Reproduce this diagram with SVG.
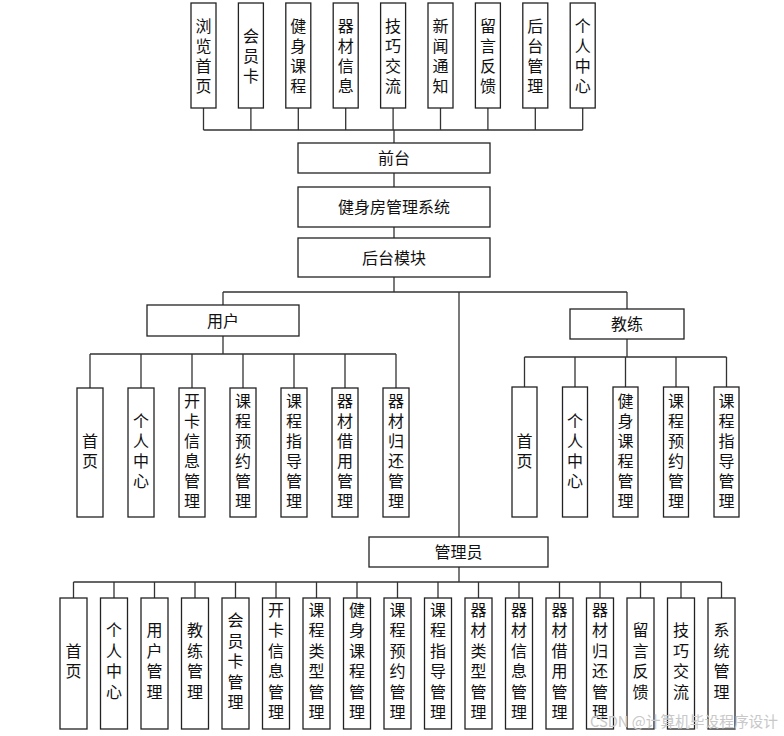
<svg xmlns="http://www.w3.org/2000/svg" width="784" height="736" viewBox="0 0 784 736">
<style>
.b{fill:#fff;stroke:#222;stroke-width:1.3}
.t{font-family:"Noto Sans CJK SC","Noto Sans",sans-serif;font-size:16px;fill:#111;text-anchor:middle}
.v{font-family:"Noto Sans CJK SC","Noto Sans",sans-serif;font-size:16px;fill:#111;text-anchor:middle;writing-mode:vertical-rl;text-orientation:upright;letter-spacing:4px}
.v2{letter-spacing:4.5px}
.c{fill:none;stroke:#333;stroke-width:1.3}
.w{font-family:"Noto Sans CJK SC","Noto Sans",sans-serif;font-size:15px;fill:#c8c8c8}
</style>
<rect width="784" height="736" fill="#fff"/>
<g id="connectors">
<path class="c" d="M203.5 108V130M250.9 108V130M298.3 108V130M345.7 108V130M393.1 108V130M440.5 108V130M487.9 108V130M535.3 108V130M582.7 108V130M203.5 130H582.7M394 130V143"/>
<path class="c" d="M394 173V187M394 227V238M394 277V292M223 292H627M223 292V305M627 292V309M459 292V537"/>
<path class="c" d="M223 336V354M90 354H396M90 354V388M141 354V388M192 354V388M243 354V388M294 354V388M345 354V388M396 354V388"/>
<path class="c" d="M627 339V357M524.5 357H726.5M524.5 357V387M575 357V387M625.5 357V387M676 357V387M726.5 357V387"/>
<path class="c" d="M459 567V582M73.5 582H721.5M73.5 582V598M114 582V598M154.5 582V598M195 582V598M235.5 582V598M276 582V598M316.5 582V598M357 582V598M397.5 582V598M438 582V598M478.5 582V598M519 582V598M559.5 582V598M600 582V598M640.5 582V598M681 582V598M721.5 582V598"/>
</g>
<g id="top-nodes">
<g id="t1"><rect class="b" x="191" y="3" width="25" height="105"/><text class="v" x="203.5" y="57.5">浏览首页</text></g>
<g id="t2"><rect class="b" x="238.4" y="3" width="25" height="105"/><text class="v" x="250.9" y="57.5">会员卡</text></g>
<g id="t3"><rect class="b" x="285.8" y="3" width="25" height="105"/><text class="v" x="298.3" y="57.5">健身课程</text></g>
<g id="t4"><rect class="b" x="333.2" y="3" width="25" height="105"/><text class="v" x="345.7" y="57.5">器材信息</text></g>
<g id="t5"><rect class="b" x="380.6" y="3" width="25" height="105"/><text class="v" x="393.1" y="57.5">技巧交流</text></g>
<g id="t6"><rect class="b" x="428" y="3" width="25" height="105"/><text class="v" x="440.5" y="57.5">新闻通知</text></g>
<g id="t7"><rect class="b" x="475.4" y="3" width="25" height="105"/><text class="v" x="487.9" y="57.5">留言反馈</text></g>
<g id="t8"><rect class="b" x="522.8" y="3" width="25" height="105"/><text class="v" x="535.3" y="57.5">后台管理</text></g>
<g id="t9"><rect class="b" x="570.2" y="3" width="25" height="105"/><text class="v" x="582.7" y="57.5">个人中心</text></g>
</g>
<g id="qiantai"><rect class="b" x="298" y="143" width="192" height="30"/><text class="t" x="394" y="164">前台</text></g>
<g id="system"><rect class="b" x="298" y="187" width="192" height="40"/><text class="t" x="394" y="213">健身房管理系统</text></g>
<g id="houtai"><rect class="b" x="298" y="238" width="192" height="39"/><text class="t" x="394" y="263.5">后台模块</text></g>
<g id="user"><rect class="b" x="147" y="305" width="152" height="31"/><text class="t" x="223" y="326.5">用户</text></g>
<g id="coach"><rect class="b" x="570" y="309" width="114" height="30"/><text class="t" x="627" y="330">教练</text></g>
<g id="admin"><rect class="b" x="369" y="537" width="179" height="30"/><text class="t" x="458.5" y="558">管理员</text></g>
<g id="user-nodes">
<g id="u1"><rect class="b" x="77" y="388" width="26" height="129"/><text class="v" x="90" y="453">首页</text></g>
<g id="u2"><rect class="b" x="128" y="388" width="26" height="129"/><text class="v" x="141" y="453">个人中心</text></g>
<g id="u3"><rect class="b" x="179" y="388" width="26" height="129"/><text class="v" x="192" y="453">开卡信息管理</text></g>
<g id="u4"><rect class="b" x="230" y="388" width="26" height="129"/><text class="v" x="243" y="453">课程预约管理</text></g>
<g id="u5"><rect class="b" x="281" y="388" width="26" height="129"/><text class="v" x="294" y="453">课程指导管理</text></g>
<g id="u6"><rect class="b" x="332" y="388" width="26" height="129"/><text class="v" x="345" y="453">器材借用管理</text></g>
<g id="u7"><rect class="b" x="383" y="388" width="26" height="129"/><text class="v" x="396" y="453">器材归还管理</text></g>
</g>
<g id="coach-nodes">
<g id="c1"><rect class="b" x="512" y="387" width="25" height="130"/><text class="v" x="524.5" y="453">首页</text></g>
<g id="c2"><rect class="b" x="562.5" y="387" width="25" height="130"/><text class="v" x="575" y="453">个人中心</text></g>
<g id="c3"><rect class="b" x="613" y="387" width="25" height="130"/><text class="v" x="625.5" y="453">健身课程管理</text></g>
<g id="c4"><rect class="b" x="663.5" y="387" width="25" height="130"/><text class="v" x="676" y="453">课程预约管理</text></g>
<g id="c5"><rect class="b" x="714" y="387" width="25" height="130"/><text class="v" x="726.5" y="453">课程指导管理</text></g>
</g>
<g id="admin-nodes">
<g id="a1"><rect class="b" x="60" y="598" width="27" height="131"/><text class="v v2" x="73.5" y="663.25">首页</text></g>
<g id="a2"><rect class="b" x="100.5" y="598" width="27" height="131"/><text class="v v2" x="114" y="663.25">个人中心</text></g>
<g id="a3"><rect class="b" x="141" y="598" width="27" height="131"/><text class="v v2" x="154.5" y="663.25">用户管理</text></g>
<g id="a4"><rect class="b" x="181.5" y="598" width="27" height="131"/><text class="v v2" x="195" y="663.25">教练管理</text></g>
<g id="a5"><rect class="b" x="222" y="598" width="27" height="131"/><text class="v v2" x="235.5" y="663.25">会员卡管理</text></g>
<g id="a6"><rect class="b" x="262.5" y="598" width="27" height="131"/><text class="v v2" x="276" y="663.25">开卡信息管理</text></g>
<g id="a7"><rect class="b" x="303" y="598" width="27" height="131"/><text class="v v2" x="316.5" y="663.25">课程类型管理</text></g>
<g id="a8"><rect class="b" x="343.5" y="598" width="27" height="131"/><text class="v v2" x="357" y="663.25">健身课程管理</text></g>
<g id="a9"><rect class="b" x="384" y="598" width="27" height="131"/><text class="v v2" x="397.5" y="663.25">课程预约管理</text></g>
<g id="a10"><rect class="b" x="424.5" y="598" width="27" height="131"/><text class="v v2" x="438" y="663.25">课程指导管理</text></g>
<g id="a11"><rect class="b" x="465" y="598" width="27" height="131"/><text class="v v2" x="478.5" y="663.25">器材类型管理</text></g>
<g id="a12"><rect class="b" x="505.5" y="598" width="27" height="131"/><text class="v v2" x="519" y="663.25">器材信息管理</text></g>
<g id="a13"><rect class="b" x="546" y="598" width="27" height="131"/><text class="v v2" x="559.5" y="663.25">器材借用管理</text></g>
<g id="a14"><rect class="b" x="586.5" y="598" width="27" height="131"/><text class="v v2" x="600" y="663.25">器材归还管理</text></g>
<g id="a15"><rect class="b" x="627" y="598" width="27" height="131"/><text class="v v2" x="640.5" y="663.25">留言反馈</text></g>
<g id="a16"><rect class="b" x="667.5" y="598" width="27" height="131"/><text class="v v2" x="681" y="663.25">技巧交流</text></g>
<g id="a17"><rect class="b" x="708" y="598" width="27" height="131"/><text class="v v2" x="721.5" y="663.25">系统管理</text></g>
</g>
<text class="w" x="590" y="727" textLength="188" lengthAdjust="spacingAndGlyphs">CSDN @计算机毕设程序设计</text>
</svg>
